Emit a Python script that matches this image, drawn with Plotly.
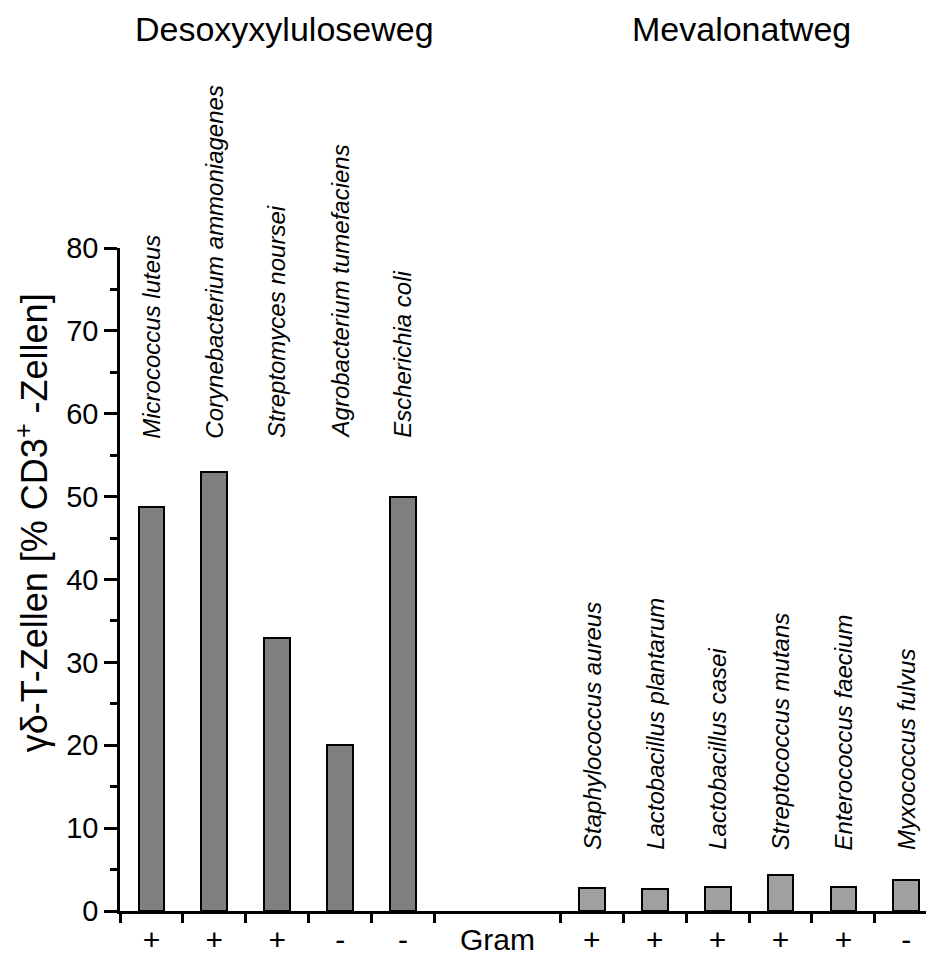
import plotly.graph_objects as go

# ---- data ----
dxp_species = ["Micrococcus luteus", "Corynebacterium ammoniagenes", "Streptomyces noursei",
               "Agrobacterium tumefaciens", "Escherichia coli"]
dxp_values = [48.8, 53.0, 33.0, 20.0, 50.0]
dxp_gram = ["+", "+", "+", "-", "-"]

mev_species = ["Staphylococcus aureus", "Lactobacillus plantarum", "Lactobacillus casei",
               "Streptococcus mutans", "Enterococcus faecium", "Myxococcus fulvus"]
mev_values = [2.8, 2.6, 2.9, 4.3, 2.9, 3.8]
mev_gram = ["+", "+", "+", "+", "+", "-"]

group_titles = ["Desoxyxyluloseweg", "Mevalonatweg"]
gram_label = "Gram"
y_title = "γδ-T-Zellen [% CD3<sup>+</sup> -Zellen]"
y_ticks = [0, 10, 20, 30, 40, 50, 60, 70, 80]

# ---- layout helpers ----
dxp_x = list(range(len(dxp_species)))
gap_start = len(dxp_species) + 2
mev_x = [gap_start + i for i in range(len(mev_species))]
gram_x = (dxp_x[-1] + mev_x[0]) / 2

FONT = "Arial, 'Liberation Sans', sans-serif"

fig = go.Figure()
fig.add_trace(go.Bar(x=dxp_x, y=dxp_values, width=0.41,
                     marker=dict(color="#808080", line=dict(color="black", width=2)),
                     showlegend=False))
fig.add_trace(go.Bar(x=mev_x, y=mev_values, width=0.41,
                     marker=dict(color="#a0a0a0", line=dict(color="black", width=2)),
                     showlegend=False))

# species labels
for xi, name in zip(dxp_x, dxp_species):
    fig.add_annotation(x=xi, y=56.8, xref="x", yref="y", text=f"<i>{name}</i>",
                       textangle=-90, showarrow=False, xanchor="center", yanchor="bottom",
                       font=dict(family=FONT, size=24, color="black"))
for xi, name in zip(mev_x, mev_species):
    fig.add_annotation(x=xi, y=7.1, xref="x", yref="y", text=f"<i>{name}</i>",
                       textangle=-90, showarrow=False, xanchor="center", yanchor="bottom",
                       font=dict(family=FONT, size=24, color="black"))

# group titles
for xpos, t in zip([2.12, 9.38], group_titles):
    fig.add_annotation(x=xpos, y=1.3615, xref="x", yref="paper", text=t, showarrow=False,
                       xanchor="center", yanchor="top",
                       font=dict(family=FONT, size=34, color="black"))

# y-axis title
fig.add_annotation(x=-0.108, y=0.585, xref="paper", yref="paper", text=y_title,
                   textangle=-90, showarrow=False, xanchor="center", yanchor="middle",
                   font=dict(family=FONT, size=36, color="black"))

tickvals = dxp_x + [gram_x] + mev_x
ticktext = dxp_gram + [gram_label] + mev_gram
boundaries = [v - 0.5 for v in dxp_x] + [dxp_x[-1] + 0.5] + [v - 0.5 for v in mev_x]

fig.update_layout(
    width=926, height=949,
    margin=dict(l=112, r=0, t=240, b=46),
    plot_bgcolor="white", paper_bgcolor="white",
    bargap=0,
    xaxis=dict(range=[-0.5, 12.44], showgrid=False, zeroline=False,
               showline=True, linecolor="black", linewidth=2.5,
               tickmode="array", tickvals=tickvals, ticktext=ticktext, ticks="",
               ticklabelstandoff=0,
               tickfont=dict(family=FONT, size=30, color="black"),
               minor=dict(tickmode="array", tickvals=boundaries, ticks="outside",
                          ticklen=9, tickwidth=2.5, tickcolor="black"),
               automargin=False),
    yaxis=dict(range=[0, 80], showgrid=False, zeroline=False,
               showline=True, linecolor="black", linewidth=2.5,
               tickmode="array", tickvals=y_ticks, ticks="outside", ticklen=13,
               tickwidth=2.5, tickcolor="black",
               minor=dict(dtick=5, ticks="outside", ticklen=7, tickwidth=2.5, tickcolor="black"),
               tickfont=dict(family=FONT, size=29, color="black"),
               automargin=False),
)

fig.write_html("out.html")
